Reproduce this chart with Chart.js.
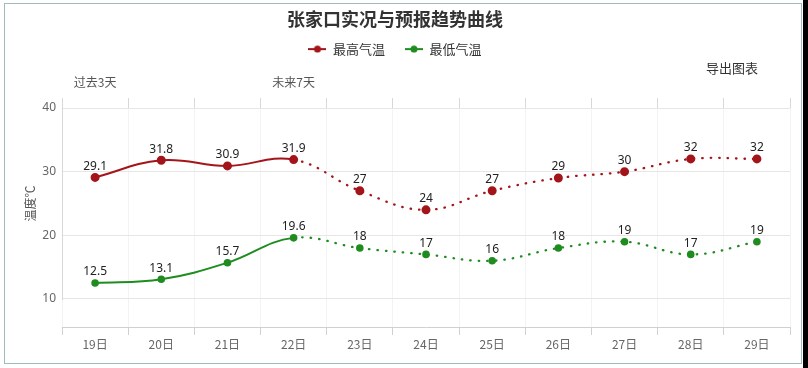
<!DOCTYPE html>
<html>
<head>
<meta charset="utf-8">
<script src="https://cdn.jsdelivr.net/npm/chart.js@4.4.0/dist/chart.umd.min.js"></script>
<style>
  html, body { margin: 0; padding: 0; background: #ffffff; }
  #wrap { position: relative; width: 808px; height: 368px; overflow: hidden; background: #fff; }
  #frame { position: absolute; left: 4px; top: 3px; width: 796px; height: 359px; border: 1px solid #9fbcc0; }
  #strip { position: absolute; left: 803px; top: 0; width: 5px; height: 368px; background: #000; }
  #export { position: absolute; left: 706px; top: 58px; font: 13px 'Noto Sans CJK SC', sans-serif; color: #333; }
  canvas { position: absolute; left: 0; top: 0; }
</style>
</head>
<body>
<div id="wrap">
  <div id="frame"></div>
  <div id="strip"></div>
  <canvas id="c" width="808" height="368"></canvas>
  <div id="export">导出图表</div>
</div>
<script>
const categories = ['19日','20日','21日','22日','23日','24日','25日','26日','27日','28日','29日'];
const topLabels = ['过去3天','','','未来7天','','','','','','',''];
const highTemps = [29.1, 31.8, 30.9, 31.9, 27, 24, 27, 29, 30, 32, 32];
const lowTemps  = [12.5, 13.1, 15.7, 19.6, 18, 17, 16, 18, 19, 17, 19];
const yTicks = [10, 20, 30, 40];
const lastObservedIndex = 3;

const RED = '#a3151a';
const GREEN = '#1f8c1f';
const CJK = "'Noto Sans CJK SC', 'Noto Sans', sans-serif";

function legendIcon(color) {
  const cv = document.createElement('canvas');
  cv.width = 18; cv.height = 8;
  const g = cv.getContext('2d');
  g.strokeStyle = color; g.lineWidth = 2;
  g.beginPath(); g.moveTo(0, 4); g.lineTo(18, 4); g.stroke();
  g.fillStyle = color;
  g.beginPath(); g.arc(9, 4, 3.5, 0, Math.PI * 2); g.fill();
  return cv;
}

const valueLabels = {
  id: 'valueLabels',
  afterDatasetsDraw(chart) {
    const ctx = chart.ctx;
    ctx.save();
    ctx.font = "12px 'Noto Sans', sans-serif";
    ctx.fillStyle = '#222';
    ctx.textAlign = 'center';
    ctx.textBaseline = 'bottom';
    chart.data.datasets.forEach((ds, i) => {
      chart.getDatasetMeta(i).data.forEach((pt, j) => {
        ctx.fillText(String(ds.data[j]), pt.x, pt.y - 5);
      });
    });
    ctx.restore();
  }
};

const decorations = {
  id: 'decorations',
  beforeDatasetsDraw(chart) {
    const ctx = chart.ctx;
    const y = chart.scales.y;
    const area = chart.chartArea;
    ctx.save();
    ctx.strokeStyle = '#d8d8d8';
    ctx.lineWidth = 1;
    ctx.beginPath();
    ctx.moveTo(area.left + 0.5, area.top - 10);
    ctx.lineTo(area.left + 0.5, y.getPixelForValue(10) + 1);
    ctx.stroke();
    ctx.translate(area.left - 32, y.getPixelForValue(25));
    ctx.rotate(-Math.PI / 2);
    ctx.font = "12px " + CJK;
    ctx.fillStyle = '#555';
    ctx.textAlign = 'center';
    ctx.textBaseline = 'middle';
    ctx.fillText('温度℃', 0, 0);
    ctx.restore();
  }
};

const dashed = ctx => ctx.p0DataIndex >= lastObservedIndex ? [0.5, 8] : [];
const segWidth = ctx => ctx.p0DataIndex >= lastObservedIndex ? 2.3 : 2;

new Chart(document.getElementById('c'), {
  type: 'line',
  data: {
    labels: categories,
    datasets: [
      {
        label: '最高气温',
        data: highTemps,
        borderColor: RED,
        backgroundColor: RED,
        pointBackgroundColor: RED,
        pointBorderColor: RED,
        pointRadius: 3.5,
        borderWidth: 2,
        borderCapStyle: 'round',
        tension: 0.4,
        segment: { borderDash: dashed, borderWidth: segWidth }
      },
      {
        label: '最低气温',
        data: lowTemps,
        borderColor: GREEN,
        backgroundColor: GREEN,
        pointBackgroundColor: GREEN,
        pointBorderColor: GREEN,
        pointRadius: 2.8,
        borderWidth: 2,
        borderCapStyle: 'round',
        tension: 0.4,
        segment: { borderDash: dashed, borderWidth: segWidth }
      }
    ]
  },
  options: {
    responsive: false,
    animation: false,
    devicePixelRatio: 1,
    layout: { padding: { left: 0, right: 18, top: 0, bottom: 0 } },
    plugins: {
      title: {
        display: true,
        text: '张家口实况与预报趋势曲线',
        color: '#333',
        font: { family: CJK, size: 18, weight: 'bold' },
        padding: { top: 8, bottom: -7 }
      },
      legend: {
        display: true,
        labels: {
          font: { family: CJK, size: 13 },
          color: '#333',
          usePointStyle: true,
          pointStyleWidth: 18,
          padding: 20,
          generateLabels(chart) {
            const items = Chart.defaults.plugins.legend.labels.generateLabels(chart);
            items.forEach(it => {
              const ds = chart.data.datasets[it.datasetIndex];
              it.pointStyle = legendIcon(ds.borderColor);
            });
            return items;
          }
        }
      },
      tooltip: { enabled: false }
    },
    scales: {
      x: {
        type: 'category',
        position: 'bottom',
        offset: true,
        grid: { offset: true, color: '#f3f3f3', tickColor: '#d0d0d0', tickLength: 8, drawOnChartArea: true },
        border: { display: true, color: '#d0d0d0' },
        ticks: { color: '#666', font: { family: CJK, size: 12 }, padding: 2, maxRotation: 0 },
        afterFit(scale) { scale.height = 41; }
      },
      x2: {
        type: 'category',
        position: 'top',
        labels: topLabels,
        offset: true,
        grid: { offset: true, drawOnChartArea: false, tickColor: '#d8d8d8', tickLength: 10 },
        border: { display: false },
        ticks: { color: '#555', font: { family: CJK, size: 12 }, padding: 8, maxRotation: 0, autoSkip: false, align: 'center' },
        afterFit(scale) { scale.height += 2; }
      },
      y: {
        min: 5.6,
        max: 40,
        afterBuildTicks(scale) { scale.ticks = yTicks.map(v => ({ value: v })); },
        grid: { color: '#e6e6e6', drawTicks: false },
        border: { display: false },
        ticks: { color: '#666', font: { family: "'Noto Sans', sans-serif", size: 12 }, padding: 6 },
        afterFit(scale) { scale.width = 62; }
      }
    }
  },
  plugins: [valueLabels, decorations]
});
</script>
</body>
</html>
